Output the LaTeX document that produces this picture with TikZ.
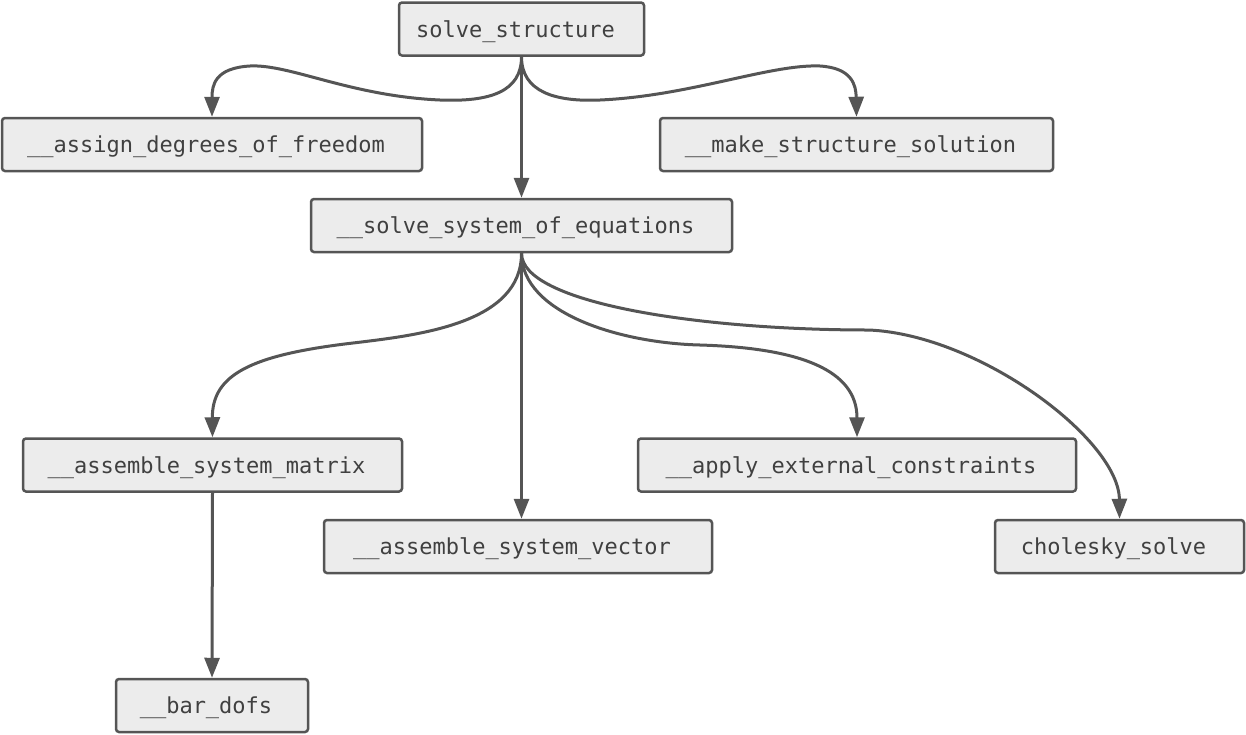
\documentclass[tikz,border=0pt]{standalone}
\usepackage{fontspec}
\setmonofont{DejaVu Sans Mono}
\usetikzlibrary{arrows.meta}

\definecolor{boxfill}{HTML}{ECECEC}
\definecolor{edgegray}{HTML}{555555}
\definecolor{textgray}{HTML}{404040}

\begin{document}
\begin{tikzpicture}[x=1pt,y=-1pt,
    fn/.style={draw=edgegray, line width=2.5pt, fill=boxfill, rounded corners=3pt,
        minimum height=53pt, text height=18pt, text depth=2pt, text=textgray,
        font=\ttfamily\fontsize{22}{26}\selectfont,
        execute at end node={\hspace{12pt}}},
    call/.style={draw=edgegray, line width=3pt, -{Triangle[length=20pt,width=15pt]}}]
            \useasboundingbox (0,0) rectangle (1246,734);

            \node[fn, minimum width=245pt] (solve structure) at (521.5,29) {solve\_structure};
            \node[fn, minimum width=420pt] (assign dofs) at (212,144.5) {\_\_assign\_degrees\_of\_freedom};
            \node[fn, minimum width=393pt] (make solution) at (856.5,144.5) {\_\_make\_structure\_solution};
            \node[fn, minimum width=421pt] (solve system) at (521.5,225.5) {\_\_solve\_system\_of\_equations};

            \node[fn, minimum width=379pt] (system matrix) at (212.5,465) {\_\_assemble\_system\_matrix};
            \node[fn, minimum width=388pt] (system vector) at (518,546.5) {\_\_assemble\_system\_vector};
            \node[fn, minimum width=438pt] (constraints) at (857,465) {\_\_apply\_external\_constraints};
            \node[fn, minimum width=249pt] (cholesky) at (1119.5,546.5) {cholesky\_solve};
            \node[fn, minimum width=192pt] (bar dofs) at (212,705.5) {\_\_bar\_dofs};

            % calls from solve_structure
            \draw[call] (solve structure.south) .. controls +(0,35) and (490,102) .. (440,100)
                .. controls (350,96) and (290,64) .. (250,66)
                .. controls (215,68) and (212,85) .. (assign dofs.north);
            \draw[call] (solve structure.south) -- (solve system.north);
            \draw[call] (solve structure.south) .. controls +(0,35) and (555,102) .. (600,100)
                .. controls (690,96) and (770,64) .. (820,66)
                .. controls (852,68) and (856,85) .. (make solution.north);

            % calls from solve_system_of_equations
            \draw[call] (solve system.south) .. controls +(0,70) and (420,335) .. (353,343)
                .. controls (250,355) and (212,375) .. (system matrix.north);
            \draw[call] (solve system.south) -- (solve system.south |- system vector.north);
            \draw[call] (solve system.south) .. controls +(0,60) and (620,343) .. (700,345)
                .. controls (800,348) and (857,370) .. (constraints.north);
            \draw[call] (solve system.south) .. controls +(0,50) and (700,330) .. (869,330)
                .. controls (980,335) and (1119,440) .. (cholesky.north);

            \draw[call] (system matrix.south) -- (bar dofs.north);
        \end{tikzpicture}
\end{document}
